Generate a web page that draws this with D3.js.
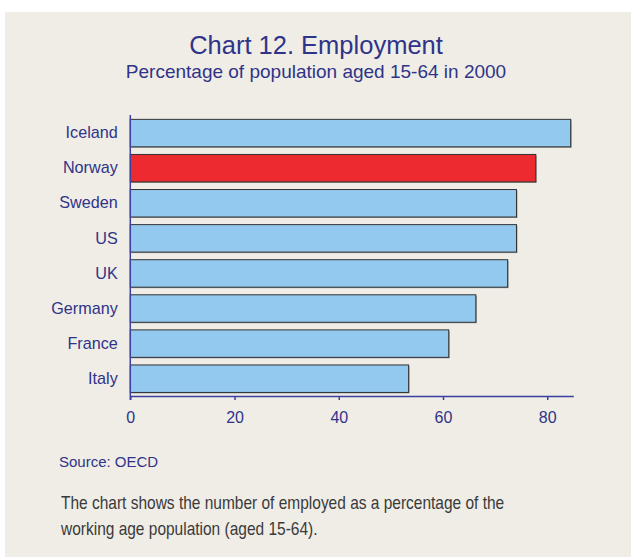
<!DOCTYPE html>
<html>
<head>
<meta charset="utf-8">
<script src="https://cdn.jsdelivr.net/npm/d3@7"></script>
<style>
    body { margin: 0; background: #ffffff; }
    svg { display: block; }
</style>
</head>
<body>
<svg id="chart" width="631" height="558"></svg>
<script>
// data
const countries = ['Iceland', 'Norway', 'Sweden', 'US', 'UK', 'Germany', 'France', 'Italy'];
const employment = [84.5, 77.8, 74.1, 74.1, 72.4, 66.3, 61.1, 53.4];
const highlight = 'Norway';
const xTicks = [0, 20, 40, 60, 80];

const navy = '#2f3488';
const font = 'Liberation Sans, Arial, sans-serif';
const svg = d3.select('#chart');

// panel
svg.append('rect')
    .attr('x', 5).attr('y', 12)
    .attr('width', 626).attr('height', 545)
    .attr('fill', '#f0ede7');

svg.append('text')
    .attr('x', 316).attr('y', 54)
    .attr('text-anchor', 'middle')
    .attr('font-family', font)
    .attr('font-size', 25.5)
    .attr('fill', navy)
    .text('Chart 12. Employment');

svg.append('text')
    .attr('x', 316).attr('y', 78)
    .attr('text-anchor', 'middle')
    .attr('font-family', font)
    .attr('font-size', 19)
    .attr('fill', navy)
    .text('Percentage of population aged 15-64 in 2000');

const x = d3.scaleLinear().domain([0, 85]).range([130.3, 573.3]);
const y = d3.scaleBand().domain(countries).range([115.5, 396.3]).paddingInner(0.217).paddingOuter(0.11);

const rows = countries.map((c, i) => ({country: c, value: employment[i]}));

// shadow behind bars
svg.append('g').selectAll('rect')
    .data(rows)
    .join('rect')
    .attr('x', x(0) + 1)
    .attr('y', d => y(d.country) + 1)
    .attr('width', d => x(d.value) - x(0))
    .attr('height', y.bandwidth())
    .attr('fill', '#9a9a9a');

svg.append('g').selectAll('rect')
    .data(rows)
    .join('rect')
    .attr('x', x(0))
    .attr('y', d => y(d.country))
    .attr('width', d => x(d.value) - x(0))
    .attr('height', y.bandwidth())
    .attr('fill', d => d.country === highlight ? '#ec2a30' : '#93c9ee')
    .attr('stroke', '#333333')
    .attr('stroke-width', 1);

// x axis
const xAxis = svg.append('g')
    .attr('transform', 'translate(0,396)')
    .call(d3.axisBottom(x).tickValues(xTicks).tickSize(4).tickSizeOuter(0).tickPadding(12));
xAxis.select('.domain').attr('stroke', '#3a3fa0').attr('stroke-width', 1.5);
xAxis.selectAll('.tick line').attr('stroke', '#3a3fa0').attr('stroke-width', 1.5);
xAxis.selectAll('.tick text')
    .attr('fill', navy)
    .attr('font-family', font)
    .attr('font-size', 16);

// y axis
const yAxis = svg.append('g')
    .attr('transform', 'translate(130.3,0)')
    .call(d3.axisLeft(y).tickSize(0).tickPadding(12.5));
yAxis.select('.domain').attr('stroke', '#3a3fa0').attr('stroke-width', 1.5)
    .attr('d', 'M0,115V400');
yAxis.selectAll('.tick text')
    .attr('fill', navy)
    .attr('font-family', font)
    .attr('font-size', 16.2);

svg.append('text')
    .attr('x', 59).attr('y', 467)
    .attr('font-family', font)
    .attr('font-size', 15)
    .attr('fill', navy)
    .text('Source: OECD');

// condensed look: squeeze a normal sans horizontally
const note = ['The chart shows the number of employed as a percentage of the',
              'working age population (aged 15-64).'];
svg.append('g')
    .attr('transform', 'translate(61,0) scale(0.815,1)')
    .selectAll('text')
    .data(note)
    .join('text')
    .attr('x', 0)
    .attr('y', (d, i) => 509 + i * 26)
    .attr('font-family', font)
    .attr('font-size', 19)
    .attr('fill', '#3a3a3a')
    .text(d => d);
</script>
</body>
</html>
